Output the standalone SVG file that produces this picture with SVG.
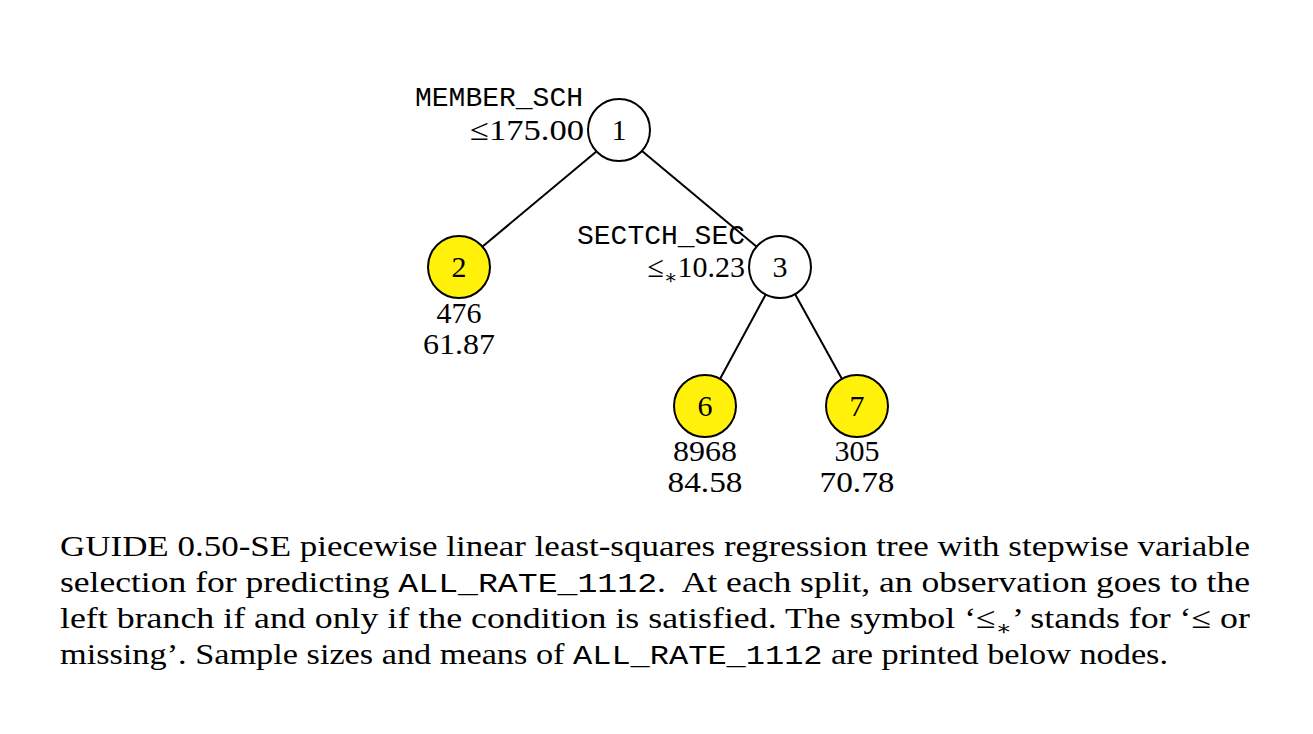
<svg xmlns="http://www.w3.org/2000/svg" width="1313" height="734" viewBox="0 0 1313 734">
<style>
.s{font-family:"Liberation Serif","DejaVu Serif",serif;font-size:30px;fill:#000}
.m{font-family:"Liberation Mono","DejaVu Sans Mono",monospace;font-size:28px;fill:#000}
.c{text-anchor:middle}
.r{text-anchor:end}
.n{stroke:#000;stroke-width:2;fill:#fff}
.y{fill:#fff10a}
.e{stroke:#000;stroke-width:2;fill:none}
</style>
<rect width="1313" height="734" fill="#fff"/>
<g id="edges">
<line class="e" x1="597" y1="151" x2="482" y2="247"/>
<line class="e" x1="642" y1="151" x2="757" y2="247"/>
<line class="e" x1="766" y1="294" x2="720" y2="379"/>
<line class="e" x1="795" y1="294" x2="842" y2="379"/>
</g>
<g id="node1">
<circle class="n" cx="619" cy="130" r="31"/>
<text class="s c" x="619" y="140">1</text>
<text class="m r" x="583" y="106">MEMBER_SCH</text>
<text class="s r" x="584" y="140" textLength="114" lengthAdjust="spacingAndGlyphs">≤175.00</text>
</g>
<g id="node2">
<circle class="n y" cx="459" cy="267" r="31"/>
<text class="s c" x="459" y="277">2</text>
<text class="s c" x="459" y="323">476</text>
<text class="s c" x="459" y="354" textLength="72" lengthAdjust="spacingAndGlyphs">61.87</text>
</g>
<g id="node3">
<circle class="n" cx="780" cy="267" r="31"/>
<text class="s c" x="780" y="277">3</text>
<text class="m r" x="745" y="244">SECTCH_SEC</text>
<text class="s r" x="745" y="277">≤<tspan font-size="20" dy="7">∗</tspan><tspan dy="-7">10.23</tspan></text>
</g>
<g id="node6">
<circle class="n y" cx="705" cy="406" r="31"/>
<text class="s c" x="705" y="416">6</text>
<text class="s c" x="705" y="461" textLength="64" lengthAdjust="spacingAndGlyphs">8968</text>
<text class="s c" x="705" y="492" textLength="75" lengthAdjust="spacingAndGlyphs">84.58</text>
</g>
<g id="node7">
<circle class="n y" cx="857" cy="406" r="31"/>
<text class="s c" x="857" y="416">7</text>
<text class="s c" x="857" y="461">305</text>
<text class="s c" x="857" y="492" textLength="75" lengthAdjust="spacingAndGlyphs">70.78</text>
</g>
<g id="caption">
<text class="s" x="60" y="556" textLength="1190" lengthAdjust="spacingAndGlyphs">GUIDE 0.50-SE piecewise linear least-squares regression tree with stepwise variable</text>
<text class="s" x="60" y="592" textLength="1190" lengthAdjust="spacingAndGlyphs">selection for predicting <tspan class="m">ALL_RATE_1112</tspan>.&#160; At each split, an observation goes to the</text>
<text class="s" x="60" y="628" textLength="1190" lengthAdjust="spacingAndGlyphs">left branch if and only if the condition is satisfied. The symbol ‘≤<tspan font-size="20" dy="7">∗</tspan><tspan dy="-7">’ stands for ‘≤ or</tspan></text>
<text class="s" x="60" y="664" textLength="1108" lengthAdjust="spacingAndGlyphs">missing’. Sample sizes and means of <tspan class="m">ALL_RATE_1112</tspan> are printed below nodes.</text>
</g>
</svg>
